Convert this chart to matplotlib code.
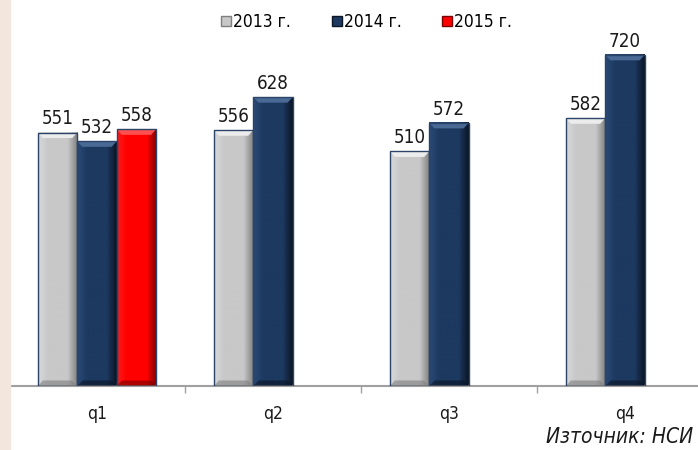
import numpy as np
import matplotlib.pyplot as plt
from matplotlib.colors import LinearSegmentedColormap
from matplotlib.patches import Polygon, Rectangle

plt.rcParams['font.family'] = ['DejaVu Sans']
plt.rcParams['font.stretch'] = 'condensed'

quarters = ['q1', 'q2', 'q3', 'q4']
years = ['2013 г.', '2014 г.', '2015 г.']
v2013 = [551, 556, 510, 582]
v2014 = [532, 628, 572, 720]
v2015 = [558]
source = 'Източник: НСИ'

# colour sets: (light, base, dark, bevel top)
styles = [
    ('#d8d8d8', '#c8c8c8', '#7f7f7f', '#ececec'),
    ('#2a4a75', '#1d3960', '#0a1525', '#4a6a95'),
    ('#ff1a1a', '#ff0000', '#7a0000', '#ff5050'),
]

fig = plt.figure(figsize=(6.98, 4.5), dpi=100)
fig.patches.append(Rectangle((0, 0), 10 / 698, 1, transform=fig.transFigure,
                             color='#f3e6dc', zorder=0))
ax = fig.add_axes([9 / 698, 64 / 450, 704 / 698, 368 / 450])
ax.patch.set_alpha(0)

width = 0.224
x = np.arange(len(quarters))


def shade(bar, st):
    bx, by = bar.get_x(), bar.get_y()
    w, h = bar.get_width(), bar.get_height()
    cmap = LinearSegmentedColormap.from_list('g', [st[0], st[1], st[1], st[1], st[2]])
    grad = np.linspace(0, 1, 64).reshape(1, -1)
    ax.imshow(grad, cmap=cmap, extent=(bx, bx + w, by, by + h),
              aspect='auto', zorder=2, interpolation='bilinear')
    ex = w * 0.13
    ey = 12
    ax.add_patch(Polygon([(bx, by + h), (bx + w, by + h), (bx + w - ex, by + h - ey),
                          (bx + ex, by + h - ey)], color=st[3], zorder=3, lw=0))
    ax.add_patch(Polygon([(bx, by), (bx + w, by), (bx + w - ex, by + ey),
                          (bx + ex, by + ey)], color=st[2], alpha=0.6, zorder=3, lw=0))
    ax.add_patch(Rectangle((bx, by), w, h, fill=False, ec='#2b4468', lw=1.0, zorder=4))


series = [v2013, v2014, v2015]
handles = []
for i, vals in enumerate(series):
    pos = x[:len(vals)] + (i - 1) * width
    bars = ax.bar(pos, vals, width, color='none', zorder=1)
    for b, v in zip(bars, vals):
        shade(b, styles[i])
        ax.text(b.get_x() + b.get_width() / 2, v + 9, str(v), ha='center',
                va='bottom', fontsize=13.5, color='#1a1a1a')
    handles.append(plt.Line2D([], [], marker='s', ls='', markersize=7,
                              markerfacecolor=styles[i][1], markeredgecolor=styles[i][2]))

ax.set_xlim(-0.5, 3.5)
ax.set_ylim(0, 800)
for s in ['top', 'right', 'left']:
    ax.spines[s].set_visible(False)
ax.spines['bottom'].set_color('#a0a0a0')
ax.spines['bottom'].set_linewidth(1.5)
ax.set_yticks([])
ax.set_xticks(x)
ax.set_xticklabels(quarters, fontsize=12.5, color='#1a1a1a')
ax.tick_params(axis='x', length=0, pad=14)
ax.set_xticks(np.arange(-0.5, 4, 1), minor=True)
ax.tick_params(axis='x', which='minor', length=5, color='#a0a0a0', width=1)

fig.legend(handles, years, loc='center', bbox_to_anchor=(366 / 698, 1 - 22 / 450),
           ncol=3, frameon=False, fontsize=12.5, handletextpad=0.05,
           columnspacing=2.3, handlelength=0.7)
fig.text(693 / 698, 1 - 437 / 450, source, ha='right', va='center',
         style='italic', fontsize=15, color='#1a1a1a')

fig.savefig('out.png', dpi=100)
